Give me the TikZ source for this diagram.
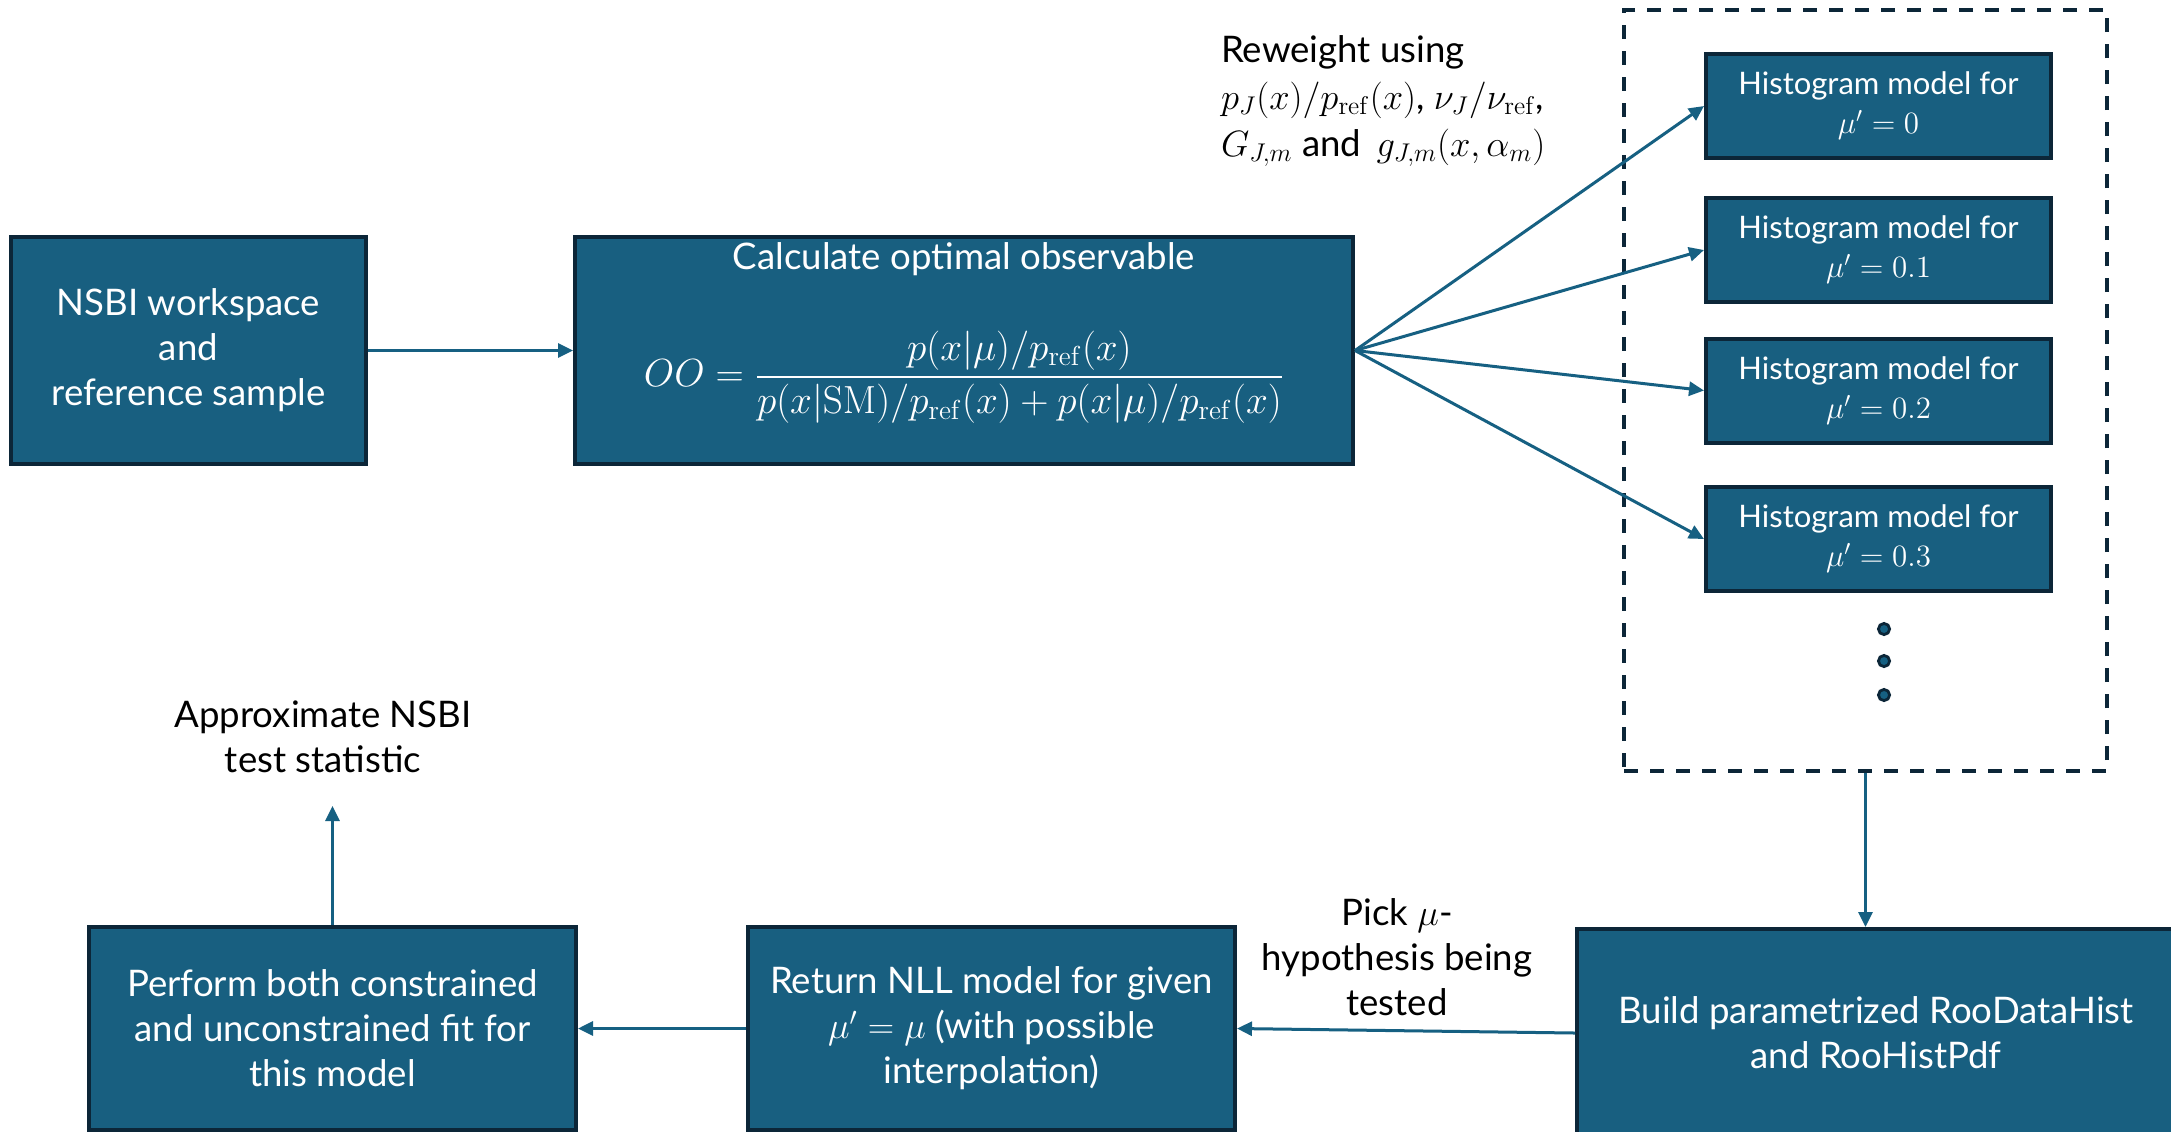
\documentclass[tikz,border=0pt]{standalone}
\usepackage{fix-cm}
\usepackage{amsmath}
\usepackage[no-math]{fontspec}
\setmainfont{Lato}
\usetikzlibrary{arrows.meta, positioning}
\definecolor{boxfill}{RGB}{24,95,128}
\definecolor{boxline}{RGB}{12,38,56}
\definecolor{flowline}{RGB}{22,96,130}

\begin{document}
\begin{tikzpicture}[x=0.5pt, y=-0.5pt, >={Triangle[length=7.5pt, width=7pt]},
  block/.style={draw=boxline, line width=2pt, fill=boxfill, text=white, align=center,
    inner sep=0pt, font=\fontsize{18.3}{22.5}\selectfont},
  histbox/.style={block, minimum width=172.5pt, minimum height=52pt,
    font=\fontsize{15.5}{19.5}\selectfont},
  flow/.style={->, draw=flowline, fill=flowline, line width=1.5pt},
  note/.style={align=center, font=\fontsize{18.3}{22.5}\selectfont},
  dot/.style={circle, draw=boxline, fill=flowline, line width=1.4pt, minimum size=5.6pt, inner sep=0pt}]

  \clip (0,0) rectangle (2171,1131);
  \fill[white] (0,0) rectangle (2171,1131);

  % top row
  \node[block, minimum width=177.5pt, minimum height=113.5pt] (ws) at (188.5,350.5)
    {NSBI workspace\\and\\reference sample};
  \node[block, minimum width=389pt, minimum height=113.5pt] (oo) at (964,350.5) {};
  \node[text=white, font=\fontsize{18.3}{22.5}\selectfont] (ootitle) at (964,259)
    {Calculate optimal observable};
  \node[text=white, font=\fontsize{19.6}{22}\selectfont] (ooformula) at (964,377)
    {$OO = \dfrac{p(x|\mu)/p_{\mathrm{ref}}(x)}{p(x|\mathrm{SM})/p_{\mathrm{ref}}(x) + p(x|\mu)/p_{\mathrm{ref}}(x)}$};
  \draw[flow] (ws) -- (oo);

  \node[note, align=left, anchor=west, font=\fontsize{18.3}{23.5}\selectfont] (rw) at (1214,101)
    {Reweight using\\$p_J(x)/p_{\mathrm{ref}}(x)$, $\nu_J/\nu_{\mathrm{ref}}$,\\$G_{J,m}$ and \,$g_{J,m}(x,\alpha_m)$};

  % histogram models
  \node[draw=boxline, line width=2pt, dash pattern=on 7pt off 6pt,
    minimum width=241.5pt, minimum height=380.5pt] (grid) at (1865.5,390.5) {};
  \foreach \mval/\ypos [count=\i] in {0/106, 0.1/250, 0.2/390.5, 0.3/539} {
    \node[histbox] (h\i) at (1878.5,\ypos) {Histogram model for\\$\mu' = \mval$};
    \draw[flow] (oo.east) -- (h\i.west);
  }
  \foreach \ypos [count=\i] in {629, 661, 695}
    \node[dot] (d\i) at (1884,\ypos) {};

  % bottom row
  \node[block, minimum width=299pt, minimum height=104pt] (build) at (1876,1033)
    {Build parametrized RooDataHist\\and RooHistPdf};
  \node[block, minimum width=243.5pt, minimum height=101.5pt] (nll) at (991.5,1028.5)
    {Return NLL model for given\\$\mu' = \mu$ (with possible\\interpolation)};
  \node[block, minimum width=243.5pt, minimum height=101.5pt] (fit) at (332.5,1028.5)
    {Perform both constrained\\and unconstrained fit for\\this model};
  \draw[flow] (grid.south) -- (grid.south |- build.north);
  \draw[flow] (build.west) -- (nll.east);
  \draw[flow] (nll.west) -- (fit.east);

  \node[note] (pick) at (1397,957) {Pick $\mu$-\\hypothesis being\\tested};
  \node[note] (stat) at (323,737) {Approximate NSBI\\test statistic};
  \coordinate (up) at (332.5,806);
  \draw[flow] (fit.north) -- (up);
\end{tikzpicture}
\end{document}
